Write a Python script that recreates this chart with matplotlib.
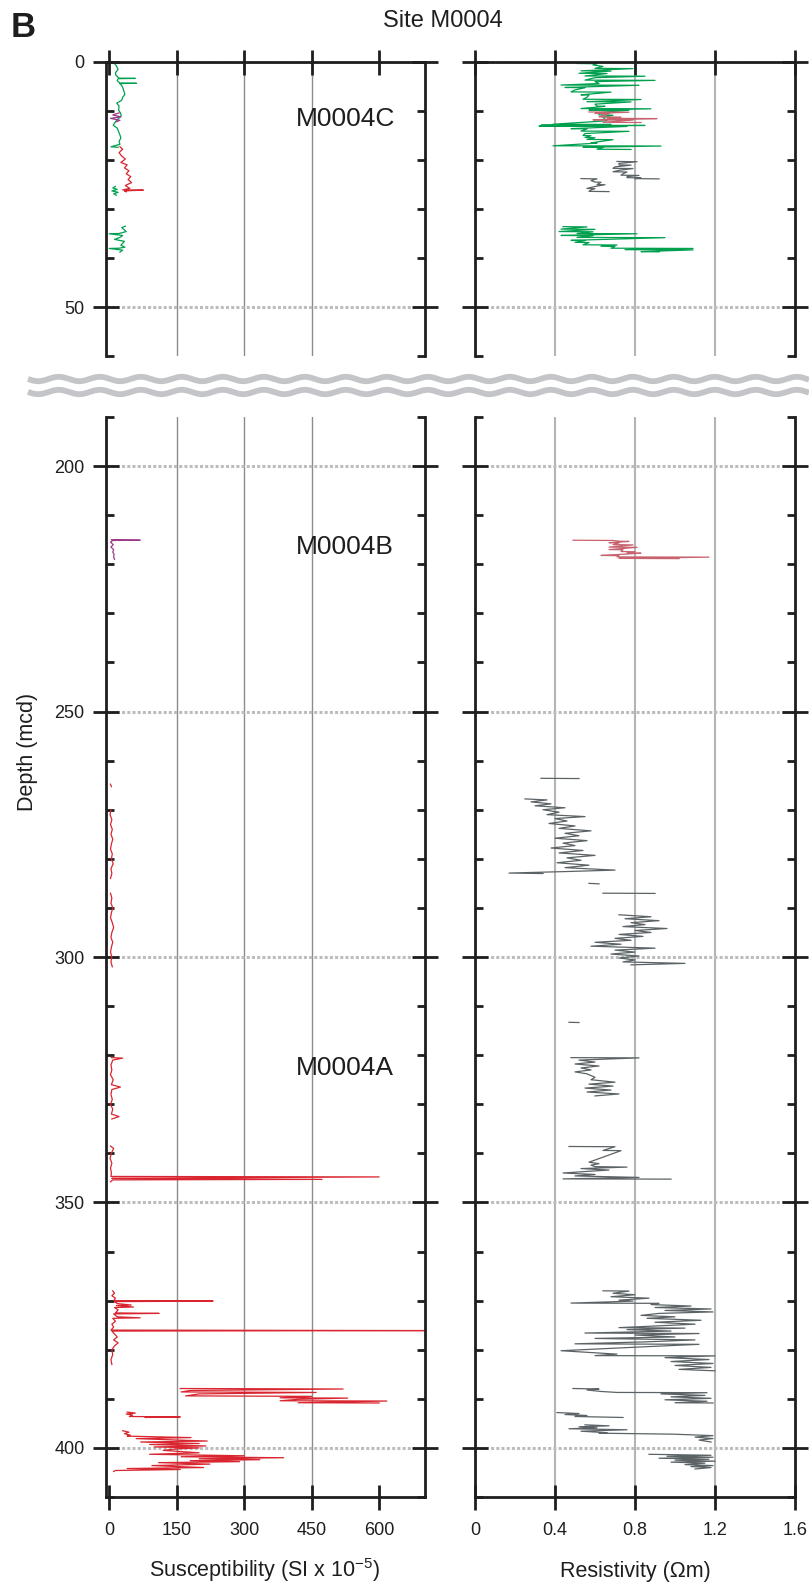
import numpy as np
import matplotlib.pyplot as plt
from matplotlib.ticker import MultipleLocator

plt.rcParams['font.family'] = ['Liberation Sans', 'DejaVu Sans']

# ---- data: (depth mcd, value) ----
# Hole M0004C, susceptibility (SI x 1e-5)
sus_c_green1 = [(0.3, 12), (0.8, 16), (1.5, 20), (2.2, 14), (2.7, 15), (3.3, 22), (3.35, 58), (3.4, 20),
                (3.8, 18), (4.3, 24), (4.35, 61), (4.4, 24), (4.8, 28), (5.4, 31), (6.0, 33), (6.6, 35),
                (7.2, 30), (7.8, 28), (8.4, 17), (9.0, 22), (9.8, 21), (10.4, 25), (11.0, 27), (11.6, 20),
                (12.2, 14), (12.9, 9), (13.5, 18), (14.2, 21), (14.9, 24), (15.5, 26), (16.2, 22),
                (16.8, 24), (17.3, 4), (17.4, 20)]
sus_c_mag = [(10.4, 22), (10.8, 8), (11.2, 26), (11.5, 3), (11.9, 24), (12.2, 16)]
sus_c_red = [(17.3, 24), (17.8, 30), (18.5, 22), (19.2, 28), (19.8, 36), (20.5, 26), (21.0, 40),
             (21.6, 34), (22.2, 44), (22.8, 38), (23.4, 48), (24.0, 42), (24.6, 50), (25.2, 36),
             (25.8, 46), (26.1, 30), (26.15, 76), (26.3, 34), (26.5, 38)]
sus_c_green2 = [(25.4, 14), (25.7, 8), (26.0, 18), (26.3, 6), (26.6, 20), (26.9, 10), (27.2, 16)]
sus_c_green3 = [(33.5, 36), (33.8, 28), (34.2, 33), (34.6, 38), (35.0, 22), (35.05, 0), (35.4, 30),
                (35.8, 24), (36.2, 12), (36.6, 34), (37.0, 30), (37.4, 26), (37.8, 35), (38.0, 22),
                (38.05, 0), (38.4, 30), (38.8, 24)]

# Hole M0004C, resistivity (ohm m)
res_c_green1 = [(0.3, 0.51), (0.35, 0.61), (0.6, 0.59), (0.9, 0.64), (1.3, 0.6), (1.35, 0.79), (1.8, 0.53),
                (1.85, 0.68), (2.3, 0.52), (2.35, 0.66), (2.85, 0.55), (2.9, 0.85), (3.2, 0.6), (3.7, 0.55),
                (3.75, 0.9), (4.0, 0.6), (4.4, 0.62), (4.7, 0.43), (4.75, 0.82), (5.2, 0.45), (5.25, 0.55),
                (5.7, 0.5), (6.1, 0.48), (6.15, 0.68), (6.7, 0.53), (6.75, 0.57), (7.2, 0.56), (7.6, 0.54),
                (7.65, 0.83), (8.1, 0.56), (8.15, 0.78), (8.6, 0.6), (9.0, 0.61), (9.05, 0.65), (9.5, 0.53),
                (9.55, 0.88), (9.8, 0.57), (9.85, 0.77), (10.3, 0.62), (10.8, 0.62), (10.85, 0.69),
                (11.3, 0.64), (12.0, 0.66), (12.7, 0.39), (12.75, 0.68), (12.9, 0.33), (12.95, 0.85),
                (13.1, 0.32), (13.15, 0.76), (13.6, 0.48), (13.65, 0.56), (14.1, 0.53), (14.15, 0.77),
                (14.6, 0.55), (15.0, 0.54), (15.05, 0.58), (15.4, 0.55), (15.45, 0.6), (15.8, 0.56),
                (15.85, 0.69), (16.5, 0.58), (16.55, 0.61), (17.1, 0.39), (17.15, 0.93), (17.4, 0.54),
                (17.45, 0.64), (17.8, 0.61), (17.85, 0.78)]
res_c_pink = [(10.2, 0.57), (10.25, 0.77), (10.5, 0.6), (10.55, 0.67), (10.9, 0.64), (11.2, 0.62),
              (11.25, 0.73), (11.5, 0.66), (11.55, 0.91), (11.8, 0.59), (11.85, 0.79), (12.3, 0.64),
              (12.35, 0.83)]
res_c_gray1 = [(20.3, 0.71), (20.35, 0.81), (20.7, 0.72), (21.0, 0.72), (21.05, 0.78), (21.4, 0.7),
               (21.7, 0.69), (21.75, 0.79), (22.1, 0.72), (22.4, 0.69), (22.45, 0.76), (22.8, 0.74),
               (23.1, 0.73), (23.15, 0.82), (23.4, 0.76), (23.6, 0.76), (23.65, 0.83), (23.8, 0.8),
               (23.85, 0.92)]
res_c_gray2 = [(23.8, 0.53), (23.85, 0.61), (24.2, 0.58), (24.5, 0.6), (24.55, 0.63), (25.0, 0.61),
               (25.05, 0.65), (25.4, 0.6), (25.8, 0.56), (25.85, 0.6), (26.1, 0.58), (26.4, 0.57),
               (26.45, 0.67)]
res_c_green2 = [(33.6, 0.44), (33.65, 0.56), (34.1, 0.43), (34.15, 0.6), (34.6, 0.42), (34.65, 0.59),
                (35.0, 0.51), (35.05, 0.81), (35.4, 0.43), (35.45, 0.59), (35.8, 0.51), (35.85, 0.95),
                (36.4, 0.48), (36.45, 0.55), (36.8, 0.5), (36.85, 0.57), (37.3, 0.54), (37.35, 0.71),
                (37.6, 0.63), (37.65, 0.7), (38.0, 0.68), (38.05, 1.09), (38.3, 0.75), (38.35, 1.09),
                (38.7, 0.83), (38.75, 0.92)]

# Hole M0004B
sus_b = [(215.0, 5), (215.1, 69), (215.15, 8), (215.5, 3), (216.0, 9), (216.5, 4), (217.0, 10),
         (217.5, 8), (218.0, 11), (218.5, 10), (219.0, 12)]
res_b = [(215.1, 0.49), (215.15, 0.69), (215.3, 0.72), (215.35, 0.77), (215.6, 0.67), (215.65, 0.72),
         (216.0, 0.69), (216.05, 0.79), (216.5, 0.67), (216.55, 0.81), (217.0, 0.67), (217.05, 0.74),
         (217.4, 0.73), (217.45, 0.8), (217.7, 0.76), (217.75, 0.83), (218.2, 0.63), (218.25, 0.72),
         (218.5, 0.71), (218.55, 1.17), (218.8, 0.72), (218.85, 1.02)]

# Hole M0004A, susceptibility
sus_a = [
    [(264.8, 3), (265.3, 5)],
    [(270.0, 4), (271, 2), (272, 6), (273, 3), (274, 7), (275, 4), (276, 8), (277, 5), (278, 3),
     (279, 7), (280, 5), (281, 9), (282, 4), (283, 6), (284, 3)],
    [(287, 3), (288, 6), (289, 4), (290, 8), (291, 5), (292, 3), (293, 7), (294, 10), (295, 6),
     (296, 4), (297, 8), (298, 5), (299, 3), (300, 6), (301, 4), (302, 7)],
    [(320.5, 5), (320.6, 30), (321, 8), (322, 4), (323, 6), (324, 3), (325, 9), (326, 5), (326.5, 25),
     (327, 6), (328, 4), (329, 7), (330, 3), (331, 8), (332, 5), (332.5, 22), (333, 6)],
    [(338.5, 3), (339, 10), (340, 5), (341, 2), (342, 6), (343, 3), (344, 5), (344.7, 4), (344.8, 600),
     (345.0, 180), (345.1, 6), (345.3, 473), (345.4, 8), (345.8, 3)],
    [(368.0, 8), (368.5, 12), (369.0, 6), (369.5, 14), (370.0, 10), (370.1, 231), (370.2, 12),
     (370.6, 18), (370.9, 49), (371.0, 16), (371.3, 54), (371.4, 12), (371.9, 20), (372.5, 14),
     (372.6, 111), (372.7, 10), (373.3, 18), (373.5, 69), (373.6, 8), (374.2, 14), (374.8, 6),
     (375.4, 10), (376.0, 4), (376.1, 720), (376.2, 6), (376.8, 12), (377.4, 18), (378.0, 10),
     (378.6, 20), (379.2, 12), (380, 6), (381, 8), (382, 4), (383, 6)],
    [(387.9, 158), (388.0, 520), (388.3, 180), (388.6, 160), (388.7, 460), (389.0, 200), (389.4, 170),
     (389.5, 450), (389.8, 380), (389.85, 530), (390.1, 420), (390.4, 380), (390.45, 617),
     (390.8, 420), (390.85, 600)],
    [(392.7, 40), (392.9, 58), (393.1, 38), (393.3, 52), (393.6, 45), (393.7, 158), (393.8, 80)],
    [(396.5, 30), (396.8, 44), (397.1, 34), (397.4, 47), (397.6, 40), (397.9, 182), (398.1, 60),
     (398.3, 120), (398.6, 218), (398.8, 70), (399.1, 200), (399.3, 90), (399.6, 215), (399.8, 100),
     (400.0, 200), (400.2, 150), (400.5, 120), (401.0, 200), (401.3, 90), (401.6, 300), (401.8, 160),
     (402.0, 388), (402.2, 200), (402.4, 335), (402.6, 180), (402.8, 290), (403.0, 110), (403.3, 224),
     (403.6, 95), (404.0, 210), (404.2, 40), (404.4, 158), (404.6, 14), (404.8, 10)],
]

# Hole M0004A, resistivity
res_a = [
    [(263.6, 0.33), (263.65, 0.52)],
    [(267.8, 0.25), (268.0, 0.36), (268.4, 0.28), (268.8, 0.38), (269.2, 0.3), (269.6, 0.45), (270.0, 0.34),
     (270.5, 0.42), (271.0, 0.36), (271.4, 0.55), (271.8, 0.4), (272.3, 0.46), (272.8, 0.37), (273.3, 0.5),
     (273.8, 0.42), (274.3, 0.58), (274.8, 0.45), (275.3, 0.52), (275.8, 0.4), (276.3, 0.56), (276.8, 0.44),
     (277.3, 0.5), (277.8, 0.38), (278.3, 0.54), (278.8, 0.42), (279.3, 0.6), (279.8, 0.46), (280.3, 0.53),
     (280.8, 0.41), (281.3, 0.57), (281.8, 0.45), (282.3, 0.7), (282.6, 0.45), (282.9, 0.17), (283.0, 0.34)],
    [(285.0, 0.57), (285.1, 0.62)],
    [(287.0, 0.64), (287.05, 0.9)],
    [(291.4, 0.72), (291.8, 0.88), (292.2, 0.75), (292.6, 0.92), (293.0, 0.78), (293.4, 0.85), (293.8, 0.74),
     (294.2, 0.96), (294.6, 0.8), (295.0, 0.88), (295.4, 0.72), (295.8, 0.84), (296.2, 0.7), (296.6, 0.78),
     (297.0, 0.6), (297.4, 0.73), (297.8, 0.58), (298.2, 0.9), (298.6, 0.7), (299.0, 0.8), (299.4, 0.68),
     (299.8, 0.82), (300.2, 0.72), (300.6, 0.8), (301.0, 0.74), (301.3, 1.05), (301.6, 0.78)],
    [(313.3, 0.47), (313.35, 0.52)],
    [(320.5, 0.48), (320.55, 0.82), (321.0, 0.52), (321.4, 0.6), (321.8, 0.5), (322.2, 0.62), (322.6, 0.53),
     (323.0, 0.58), (323.4, 0.5), (323.8, 0.56), (324.5, 0.6), (325.0, 0.58), (325.5, 0.7), (325.9, 0.57),
     (326.3, 0.69), (326.7, 0.55), (327.1, 0.68), (327.5, 0.56), (327.9, 0.72), (328.3, 0.6)],
    [(338.6, 0.47), (338.65, 0.7), (339.4, 0.64), (339.45, 0.73), (341.8, 0.57), (342.1, 0.62), (342.4, 0.58),
     (342.7, 0.6), (342.8, 0.76), (343.1, 0.53), (343.4, 0.67), (343.7, 0.55), (344.0, 0.44), (344.3, 0.6),
     (344.6, 0.5), (344.9, 0.82), (345.2, 0.44), (345.25, 0.98)],
    [(368.0, 0.64), (368.05, 0.77), (368.5, 0.69), (368.8, 0.8), (369.2, 0.68), (369.5, 0.87), (369.9, 0.72),
     (370.1, 0.79), (370.5, 0.48), (370.55, 0.92), (370.8, 0.88), (371.1, 1.08), (371.4, 0.9), (371.7, 1.18),
     (372.0, 0.95), (372.3, 1.19), (372.6, 0.92), (373.0, 0.83), (373.3, 1.0), (373.6, 0.86), (374.0, 1.13),
     (374.4, 0.9), (374.8, 1.1), (375.5, 0.72), (375.6, 1.05), (375.9, 0.76), (376.2, 0.98), (376.6, 0.55),
     (376.7, 1.12), (377.0, 0.8), (377.4, 1.0), (377.7, 0.6), (378.0, 1.1), (378.4, 0.85), (378.8, 0.5),
     (378.9, 1.12), (379.3, 0.9), (380.2, 0.43), (380.5, 0.55), (380.9, 0.71), (381.2, 0.6), (381.25, 1.2),
     (381.6, 0.95), (382.0, 1.17), (382.4, 0.98), (382.8, 1.19), (383.2, 1.0), (383.6, 1.18), (384.0, 1.02),
     (384.3, 1.2)],
    [(387.9, 0.49), (388.0, 0.62), (388.2, 0.56), (388.5, 0.63), (388.7, 0.71), (388.75, 1.16), (389.0, 0.93),
     (389.3, 1.15), (389.6, 0.98), (389.9, 1.18), (390.2, 0.95), (390.5, 1.16), (390.8, 1.0), (390.85, 1.19)],
    [(392.8, 0.41), (393.0, 0.52), (393.2, 0.45), (393.4, 0.56), (393.6, 0.5), (393.8, 0.74)],
    [(395.3, 0.55), (395.5, 0.67), (395.7, 0.52), (395.9, 0.61), (396.1, 0.47), (396.3, 0.76), (396.6, 0.53),
     (396.9, 0.66), (397.0, 0.62), (397.2, 0.99), (397.5, 1.19), (397.8, 1.1), (398.1, 1.19), (398.4, 1.12),
     (398.8, 1.18)],
    [(401.3, 0.87), (401.5, 1.18), (401.7, 0.96), (401.9, 1.19), (402.1, 0.92), (402.3, 1.17), (402.5, 1.0),
     (402.7, 1.2), (402.9, 0.98), (403.1, 1.15), (403.4, 1.05), (403.6, 1.19), (403.8, 1.08), (404.0, 1.18),
     (404.3, 1.1)],
]

sus_ticks = [0, 150, 300, 450, 600]
res_ticks = [0, 0.4, 0.8, 1.2, 1.6]
res_tick_labels = ['0', '0.4', '0.8', '1.2', '1.6']

GREEN = '#00a04f'
RED = '#d9252f'
MAG = '#9a3a88'
PINK = '#c9626f'
GRAY = '#5c6366'
INK = '#1e1e1e'

W, H = 809, 1583
fig = plt.figure(figsize=(W / 100, H / 100), dpi=100)


def box(x0, y0, x1, y1):
    return [x0 / W, 1 - y1 / H, (x1 - x0) / W, (y1 - y0) / H]


def setup(ax, xlim, ticks, grid_col, grid_lw, ylim, top, labels=None, show_y=True):
    ax.set_xlim(*xlim)
    ax.set_ylim(*ylim)
    for side in ['left', 'right', 'top', 'bottom']:
        ax.spines[side].set_linewidth(2)
        ax.spines[side].set_color(INK)
    ax.spines['bottom' if top else 'top'].set_visible(False)
    for t in ticks[1:-1]:
        ax.axvline(t, color=grid_col, lw=grid_lw, zorder=0)
    for d in range(0, 451, 50):
        if ylim[1] <= d <= ylim[0]:
            ax.axhline(d, color='#bdbdbd', lw=2.2, ls=(0, (1, 0.7)), zorder=0)
    ax.set_xticks(ticks)
    if labels is not None:
        ax.set_xticklabels(labels)
    ax.tick_params(axis='x', direction='inout', length=18, width=2, color=INK,
                   top=top, bottom=not top, labeltop=False, labelbottom=not top,
                   labelsize=13, labelcolor=INK, pad=9)
    ax.yaxis.set_major_locator(MultipleLocator(50))
    ax.yaxis.set_minor_locator(MultipleLocator(10))
    ax.tick_params(axis='y', which='major', direction='inout', length=19, width=2, color=INK,
                   left=True, right=True, labelleft=show_y, labelsize=13, labelcolor=INK, pad=6)
    ax.tick_params(axis='y', which='minor', direction='in', length=6, width=2, color=INK,
                   left=True, right=True)


def draw(ax, pts, color):
    arr = np.array(pts, dtype=float)
    ax.plot(arr[:, 1], arr[:, 0], color=color, lw=0.9, zorder=2)


SUS_LIM = (-7, 702)
RES_LIM = (0, 1.6)

ax1 = fig.add_axes(box(106, 62, 425, 356))
setup(ax1, SUS_LIM, sus_ticks, '#8c8c8c', 1.0, (60, 0), True)
ax2 = fig.add_axes(box(475, 62, 795, 356))
setup(ax2, RES_LIM, res_ticks, '#b4b4b4', 1.5, (60, 0), True, show_y=False)
ax3 = fig.add_axes(box(106, 417, 425, 1497))
setup(ax3, SUS_LIM, sus_ticks, '#8c8c8c', 1.0, (410, 190), False)
ax4 = fig.add_axes(box(475, 417, 795, 1497))
setup(ax4, RES_LIM, res_ticks, '#b4b4b4', 1.5, (410, 190), False, labels=res_tick_labels, show_y=False)

draw(ax1, sus_c_green1, GREEN)
draw(ax1, sus_c_red, RED)
draw(ax1, sus_c_green2, GREEN)
draw(ax1, sus_c_green3, GREEN)
draw(ax1, sus_c_mag, MAG)

draw(ax2, res_c_green1, GREEN)
draw(ax2, res_c_pink, PINK)
draw(ax2, res_c_gray1, GRAY)
draw(ax2, res_c_gray2, GRAY)
draw(ax2, res_c_green2, GREEN)

draw(ax3, sus_b, MAG)
for seg in sus_a:
    draw(ax3, seg, RED)
draw(ax4, res_b, PINK)
for seg in res_a:
    draw(ax4, seg, GRAY)

ax1.text(415, 13.1, 'M0004C', fontsize=19, color=INK, va='baseline')
ax3.text(415, 218.0, 'M0004B', fontsize=19, color=INK, va='baseline')
ax3.text(415, 324.1, 'M0004A', fontsize=19, color=INK, va='baseline')

# axis break
axw = fig.add_axes([0, 0, 1, 1])
axw.set_xlim(0, W)
axw.set_ylim(H, 0)
axw.axis('off')
xs = np.linspace(28, W, 900)
for yc in (379, 392):
    axw.plot(xs, yc + 2.2 * np.sin(2 * np.pi * (xs - 28) / 41), color='#c4c5c9', lw=4.2,
             solid_capstyle='butt')

fig.text(443 / W, 1 - 27 / H, 'Site M0004', ha='center', va='baseline', fontsize=17, color=INK)
fig.text(11 / W, 1 - 37 / H, 'B', ha='left', va='baseline', fontsize=25, fontweight='bold', color=INK)
fig.text(27 / W, 1 - 752 / H, 'Depth (mcd)', rotation=90, ha='center', va='center',
         fontsize=15.5, color=INK)
fig.text(265 / W, 1 - 1577 / H, 'Susceptibility (SI x 10$^{\\mathregular{-5}}$)', ha='center',
         va='baseline', fontsize=15.5, color=INK)
fig.text(635 / W, 1 - 1577 / H, 'Resistivity (\u03a9m)', ha='center', va='baseline',
         fontsize=15.5, color=INK)

fig.savefig('out.png', dpi=100)
